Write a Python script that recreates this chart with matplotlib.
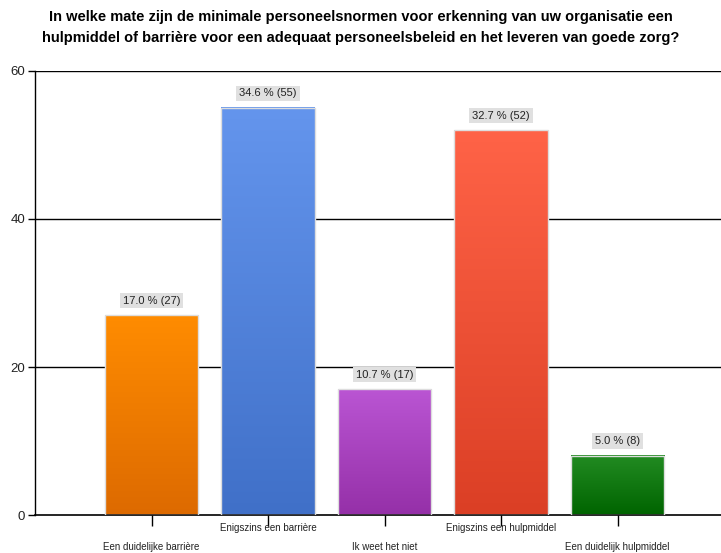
import numpy as np
import matplotlib
matplotlib.use("Agg")
import matplotlib.pyplot as plt
from matplotlib.colors import LinearSegmentedColormap

plt.rcParams['font.family'] = ['Liberation Sans', 'DejaVu Sans']

title = ("In welke mate zijn de minimale personeelsnormen voor erkenning van uw organisatie een\n"
         "hulpmiddel of barrière voor een adequaat personeelsbeleid en het leveren van goede zorg?")
categories = ["Een duidelijke barrière", "Enigszins een barrière", "Ik weet het niet",
              "Enigszins een hulpmiddel", "Een duidelijk hulpmiddel"]
counts = [27, 55, 17, 52, 8]
percents = [17.0, 34.6, 10.7, 32.7, 5.0]
top_colors = ["#FF8C00", "#6495ED", "#BA55D3", "#FF6347", "#228B22"]
bottom_colors = ["#DD6A00", "#4070C8", "#9530A8", "#DB3F25", "#006400"]
yticks = [0, 20, 40, 60]

fig = plt.figure(figsize=(7.21, 5.53), dpi=100)
ax = fig.add_axes([35/721, 38/553, 699/721, 444/553])

x = np.arange(len(categories))
width = 0.8
grad = np.linspace(0, 1, 256).reshape(-1, 1)
for i, (c, h) in enumerate(zip(counts, percents)):
    cmap = LinearSegmentedColormap.from_list("g", [top_colors[i], bottom_colors[i]])
    ax.imshow(grad, cmap=cmap, extent=(x[i]-width/2, x[i]+width/2, 0, c),
              aspect='auto', origin='upper', zorder=2)
    ax.bar(x[i], c, width=width, facecolor='none', edgecolor='#DDDDDD', linewidth=1, zorder=3)
    ax.text(x[i], c + 1.3, f"{h:.1f} % ({c})", ha='center', va='bottom', fontsize=8,
            color='#222222', zorder=4,
            bbox=dict(facecolor='#E0E0E0', edgecolor='none', pad=2.0))

ax.set_xlim(-1, 5)
ax.set_ylim(0, 60)
ax.set_yticks(yticks)
ax.set_yticklabels([str(v) for v in yticks], fontsize=9.5, color='#222222')
for v in yticks[1:]:
    ax.axhline(v, color='black', linewidth=1, zorder=1)

ax.set_xticks(list(x))
ax.set_xticklabels([])
ax.tick_params(axis='x', length=8, width=1, direction='out')
ax.tick_params(axis='y', length=5, width=1, direction='out', pad=2)
for i, lab in enumerate(categories):
    yoff = -13 if i % 2 == 1 else -32
    ax.annotate(lab, xy=(x[i], 0), xytext=(0, yoff), textcoords='offset pixels',
                ha='center', va='center', fontsize=7, color='#222222', annotation_clip=False)

for s in ['top', 'right']:
    ax.spines[s].set_visible(False)
ax.spines['left'].set_linewidth(1)
ax.spines['bottom'].set_linewidth(1.2)

fig.text(0.5, 1 - 27.5/553, title, ha='center', va='center', fontsize=10.5,
         fontweight='bold', linespacing=1.55)

fig.savefig("out.png", dpi=100)
